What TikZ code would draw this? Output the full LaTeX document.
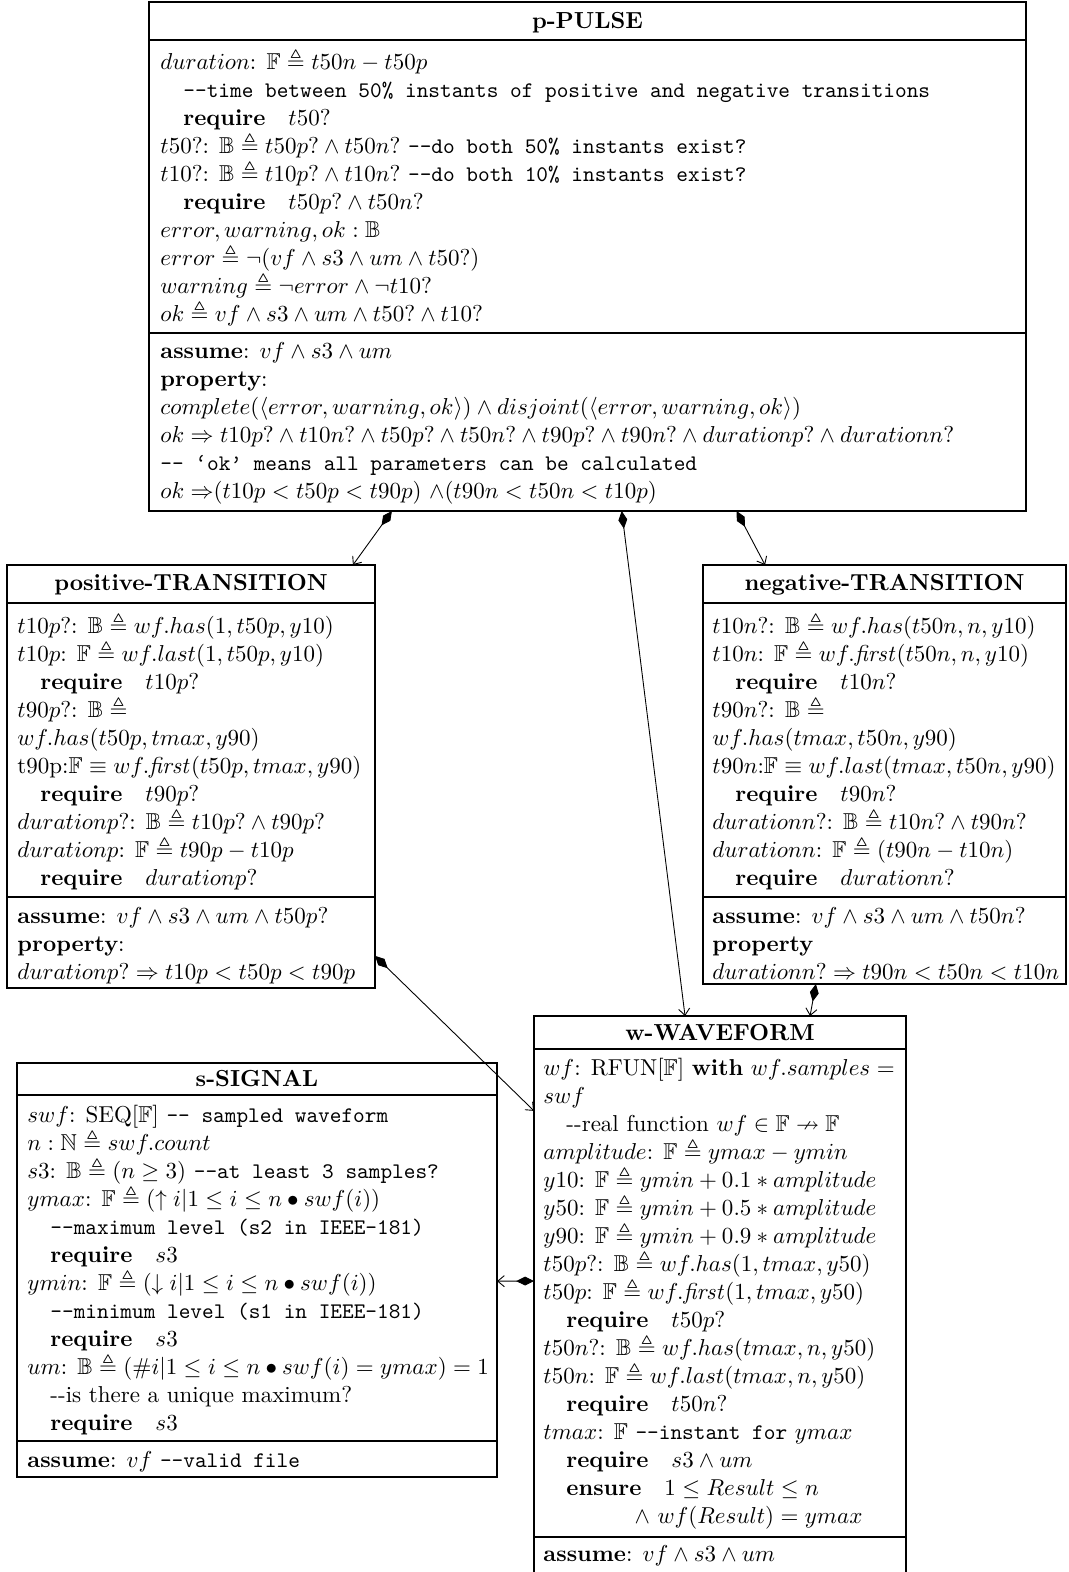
\RequirePackage{fix-cm}
\documentclass[tikz,border=0pt]{standalone}
\usepackage{amsmath}
\usepackage{amssymb}
\usepackage{tikz}
\usetikzlibrary{arrows.meta, calc}

\newcommand{\ind}{\hspace*{1em}}
\newcommand{\reqline}{\ind\textbf{require}\quad}
\newcommand{\cmt}[1]{{\fontsize{10}{12.6}\selectfont\texttt{#1}}}
\newcommand{\bodyfont}{\fontsize{10.35}{12.6}\selectfont\setlength{\lineskiplimit}{-20pt}}

\begin{document}
\begin{tikzpicture}[x = 0.45pt, y = -0.45pt]
    \tikzset{
        classbox/.style 2 args = {draw, line width = 0.6pt, anchor = north west, inner sep = 0pt, outer sep = 0pt, minimum width = #1, minimum height = #2},
        sep/.style = {line width = 0.6pt},
        title/.style = {anchor = base, inner sep = 0pt, font = {\fontsize{10.45}{12.6}\selectfont\bfseries}},
        body/.style = {anchor = north west, align = left, inner sep = 0pt, font = \bodyfont},
        has/.style = {line width = 0.4pt, {Diamond[length = 8pt, width = 4pt]}-{Straight Barb[length = 3pt, width = 5pt]}}
    }
    \useasboundingbox (0, 0) rectangle (1068, 1572);
    \fill[white] (0, 0) rectangle (1068, 1572);

    % P-PULSE
    \node[classbox = {394.65pt}{229.05pt}] (pulse) at (149, 2) {};
    \draw[sep] (149, 40) -- (1026, 40);
    \draw[sep] (149, 333) -- (1026, 333);
    \node[title] (pulse-title) at (587.5, 28.5) {p-PULSE};
    \node[body] (pulse-feat) at (160, 47.9) {\strut$duration$: $\mathbb{F} \triangleq t50n - t50p$ \\
        \ind\cmt{-{}-time between 50\% instants of positive and negative transitions} \\
        \reqline $t50?$ \\
        $t50?$: $\mathbb{B} \triangleq t50p? \wedge t50n?$ \cmt{-{}-do both 50\% instants exist?} \\
        $t10?$: $\mathbb{B} \triangleq t10p? \wedge t10n?$ \cmt{-{}-do both 10\% instants exist?} \\
        \reqline $t50p? \wedge t50n?$ \\
        $error, warning, ok : \mathbb{B}$ \\
        $error \triangleq \neg(vf \wedge s3 \wedge um \wedge t50?)$ \\
        $warning \triangleq \neg error \wedge \neg t10?$ \\
        $ok \triangleq vf \wedge s3 \wedge um \wedge t50? \wedge t10?$};
    \node[body] (pulse-inv) at (160, 338.4) {\strut\textbf{assume}: $vf \wedge s3 \wedge um$ \\
        \textbf{property}: \\
        $complete(\langle error, warning, ok\rangle) \wedge disjoint(\langle error, warning, ok\rangle)$ \\
        $ok \Rightarrow t10p? \wedge t10n? \wedge t50p? \wedge t50n? \wedge t90p? \wedge t90n? \wedge durationp? \wedge durationn?$ \\
        \cmt{-{}- ‘ok’ means all parameters can be calculated} \\
        $ok \Rightarrow\mkern-5mu (t10p < t50p < t90p)\ {\wedge}(t90n < t50n < t10p)$};

    % POSITIVE-TRANSITION
    \node[classbox = {165.6pt}{190.35pt}] (pos) at (7, 565) {};
    \draw[sep] (7, 603) -- (375, 603);
    \draw[sep] (7, 897) -- (375, 897);
    \node[title] (pos-title) at (191, 590.5) {positive-TRANSITION};
    \node[body] (pos-feat) at (17, 612.4) {\strut$t10p?$: $\mathbb{B} \triangleq wf.has(1, t50p, y10)$ \\
        $t10p$: $\mathbb{F} \triangleq wf.last(1, t50p, y10)$ \\
        \reqline $t10p?$ \\
        $t90p?$: $\mathbb{B} \triangleq$ \\
        $wf.has(t50p, tmax, y90)$ \\
        t90p:$\mathbb{F} \equiv wf.\mathit{first}(t50p, tmax, y90)$ \\
        \reqline $t90p?$ \\
        $durationp?$: $\mathbb{B} \triangleq t10p? \wedge t90p?$ \\
        $durationp$: $\mathbb{F} \triangleq t90p - t10p$ \\
        \reqline $durationp?$};
    \node[body] (pos-inv) at (17, 903.4) {\strut\textbf{assume}: $vf \wedge s3 \wedge um \wedge t50p?$ \\
        \textbf{property}: \\
        $durationp? \Rightarrow t10p < t50p < t90p$};

    % NEGATIVE-TRANSITION
    \node[classbox = {163.35pt}{188.55pt}] (neg) at (703, 565) {};
    \draw[sep] (703, 603) -- (1066, 603);
    \draw[sep] (703, 897) -- (1066, 897);
    \node[title] (neg-title) at (884.5, 590.5) {negative-TRANSITION};
    \node[body] (neg-feat) at (712, 612.4) {\strut$t10n?$: $\mathbb{B} \triangleq wf.has(t50n, n, y10)$ \\
        $t10n$: $\mathbb{F} \triangleq wf.\mathit{first}(t50n, n, y10)$ \\
        \reqline $t10n?$ \\
        $t90n?$: $\mathbb{B} \triangleq$ \\
        $wf.has(tmax, t50n, y90)$ \\
        $t90n$:$\mathbb{F} \equiv wf.last(tmax, t50n, y90)$ \\
        \reqline $t90n?$ \\
        $durationn?$: $\mathbb{B} \triangleq t10n? \wedge t90n?$ \\
        $durationn$: $\mathbb{F} \triangleq (t90n - t10n)$ \\
        \reqline $durationn?$};
    \node[body] (neg-inv) at (712, 903.4) {\strut\textbf{assume}: $vf \wedge s3 \wedge um \wedge t50n?$ \\
        \textbf{property} \\
        $durationn? \Rightarrow t90n < t50n < t10n$};

    % W-WAVEFORM
    \node[classbox = {167.4pt}{251.1pt}] (wave) at (534, 1016) {};
    \draw[sep] (534, 1049) -- (906, 1049);
    \draw[sep] (534, 1537) -- (906, 1537);
    \node[title] (wave-title) at (720, 1040) {w-WAVEFORM};
    \node[body] (wave-feat) at (543, 1055.4) {\strut$wf$: RFUN[$\mathbb{F}$] \textbf{with} $wf.samples =$ \\
        $swf$ \\
        \ind-{}-real function $wf \in \mathbb{F} \nrightarrow \mathbb{F}$ \\
        $amplitude$: $\mathbb{F} \triangleq ymax - ymin$ \\
        $y10$: $\mathbb{F} \triangleq ymin + 0.1 * amplitude$ \\
        $y50$: $\mathbb{F} \triangleq ymin + 0.5 * amplitude$ \\
        $y90$: $\mathbb{F} \triangleq ymin + 0.9 * amplitude$ \\
        $t50p?$: $\mathbb{B} \triangleq wf.has(1, tmax, y50)$ \\
        $t50p$: $\mathbb{F} \triangleq wf.\mathit{first}(1, tmax, y50)$ \\
        \reqline $t50p?$ \\
        $t50n?$: $\mathbb{B} \triangleq wf.has(tmax, n, y50)$ \\
        $t50n$: $\mathbb{F} \triangleq wf.last(tmax, n, y50)$ \\
        \reqline $t50n?$ \\
        $tmax$: $\mathbb{F}$ \cmt{-{}-instant for} $ymax$ \\
        \reqline $s3 \wedge um$ \\
        \ind\textbf{ensure}\quad $1 \leq Result \leq n$ \\
        \hspace*{41pt}$\wedge\ wf(Result) = ymax$};
    \node[body] (wave-inv) at (543, 1541.4) {\strut\textbf{assume}: $vf \wedge s3 \wedge um$};

    % S-SIGNAL
    \node[classbox = {216pt}{186.3pt}] (sig) at (17, 1063) {};
    \draw[sep] (17, 1095) -- (497, 1095);
    \draw[sep] (17, 1441) -- (497, 1441);
    \node[title] (sig-title) at (257, 1086) {s-SIGNAL};
    \node[body] (sig-feat) at (27, 1102.4) {\strut$swf$: SEQ[$\mathbb{F}$] \cmt{-{}- sampled waveform} \\
        $n : \mathbb{N} \triangleq swf.count$ \\
        $s3$: $\mathbb{B} \triangleq (n \geq 3)$ \cmt{-{}-at least 3 samples?} \\
        $ymax$: $\mathbb{F} \triangleq (\uparrow i | 1 \leq i \leq n \bullet swf(i))$ \\
        \ind\cmt{-{}-maximum level (s2 in IEEE-181)} \\
        \reqline $s3$ \\
        $ymin$: $\mathbb{F} \triangleq (\downarrow i | 1 \leq i \leq n \bullet swf(i))$ \\
        \ind\cmt{-{}-minimum level (s1 in IEEE-181)} \\
        \reqline $s3$ \\
        $um$: $\mathbb{B} \triangleq (\# i | 1 \leq i \leq n \bullet swf(i) = ymax) = 1$ \\
        \ind-{}-is there a unique maximum? \\
        \reqline $s3$};
    \node[body] (sig-inv) at (27, 1447.4) {\strut\textbf{assume}: $vf$ \cmt{-{}-valid file}};

    % AGGREGATIONS
    \draw[has] ($(pulse.south west)!0.277!(pulse.south east)$) -- ($(pos.north west)!0.940!(pos.north east)$);
    \draw[has] ($(pulse.south west)!0.539!(pulse.south east)$) -- ($(wave.north west)!0.406!(wave.north east)$);
    \draw[has] ($(pulse.south west)!0.670!(pulse.south east)$) -- ($(neg.north west)!0.171!(neg.north east)$);
    \draw[has] ($(pos.north east)!0.924!(pos.south east)$) -- ($(wave.north west)!0.170!(wave.south west)$);
    \draw[has] ($(neg.south west)!0.311!(neg.south east)$) -- ($(wave.north west)!0.742!(wave.north east)$);
    \draw[has] ($(wave.north west)!0.475!(wave.south west)$) -- ($(sig.north east)!0.527!(sig.south east)$);
\end{tikzpicture}
\end{document}
